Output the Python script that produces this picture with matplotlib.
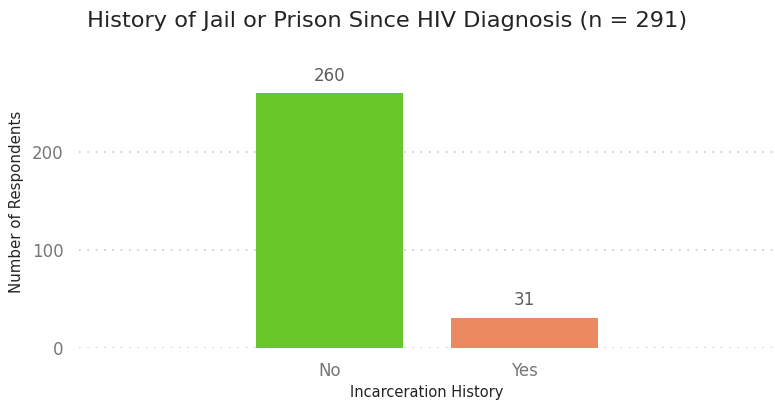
import matplotlib
matplotlib.use('Agg')
import matplotlib.pyplot as plt

categories = ['No', 'Yes']
counts = [260, 31]
bar_colors = ['#6AC72A', '#EB8A60']
yticks = [0, 100, 200]

TITLE = 'History of Jail or Prison Since HIV Diagnosis (n = 291)'
W, H = 775, 401


def main():
    fig = plt.figure(figsize=(W / 100, H / 100), dpi=100)
    # plot area in figure fractions
    ax = fig.add_axes([79 / W, 53 / H, 696 / W, 279 / H])

    x = range(len(categories))
    ax.bar(x, counts, width=0.75, color=bar_colors, zorder=3)

    for xi, v in zip(x, counts):
        ax.text(xi, v + 9, str(v), ha='center', va='bottom',
                fontsize=12, color='#605E5C')

    ax.set_xlim(-1.28, 2.28)
    ax.set_ylim(0, 285)
    ax.set_yticks(yticks)
    ax.set_xticks(list(x))
    ax.set_xticklabels(categories)
    ax.tick_params(axis='y', length=0, labelsize=12, labelcolor='#777777', pad=11)
    ax.tick_params(axis='x', length=0, labelsize=12, labelcolor='#777777', pad=10)

    # dotted gridlines
    ax.yaxis.grid(True, linestyle=(0, (1, 4)), color='#C8C8C8', linewidth=1.2, zorder=0)
    for s in ax.spines.values():
        s.set_visible(False)

    # axis titles placed in figure pixels
    fig.text(17 / W, 1 - 202 / H, 'Number of Respondents', rotation=90,
             ha='center', va='center', fontsize=10.8, color='#252423')
    fig.text(427 / W, 1 - 392 / H, 'Incarceration History',
             ha='center', va='center', fontsize=10.5, color='#252423')

    fig.text(0.5, 1 - 21 / H, TITLE, ha='center', va='center', fontsize=16.2, color='#252423')

    fig.savefig('out.png', dpi=100)


if __name__ == '__main__':
    main()
